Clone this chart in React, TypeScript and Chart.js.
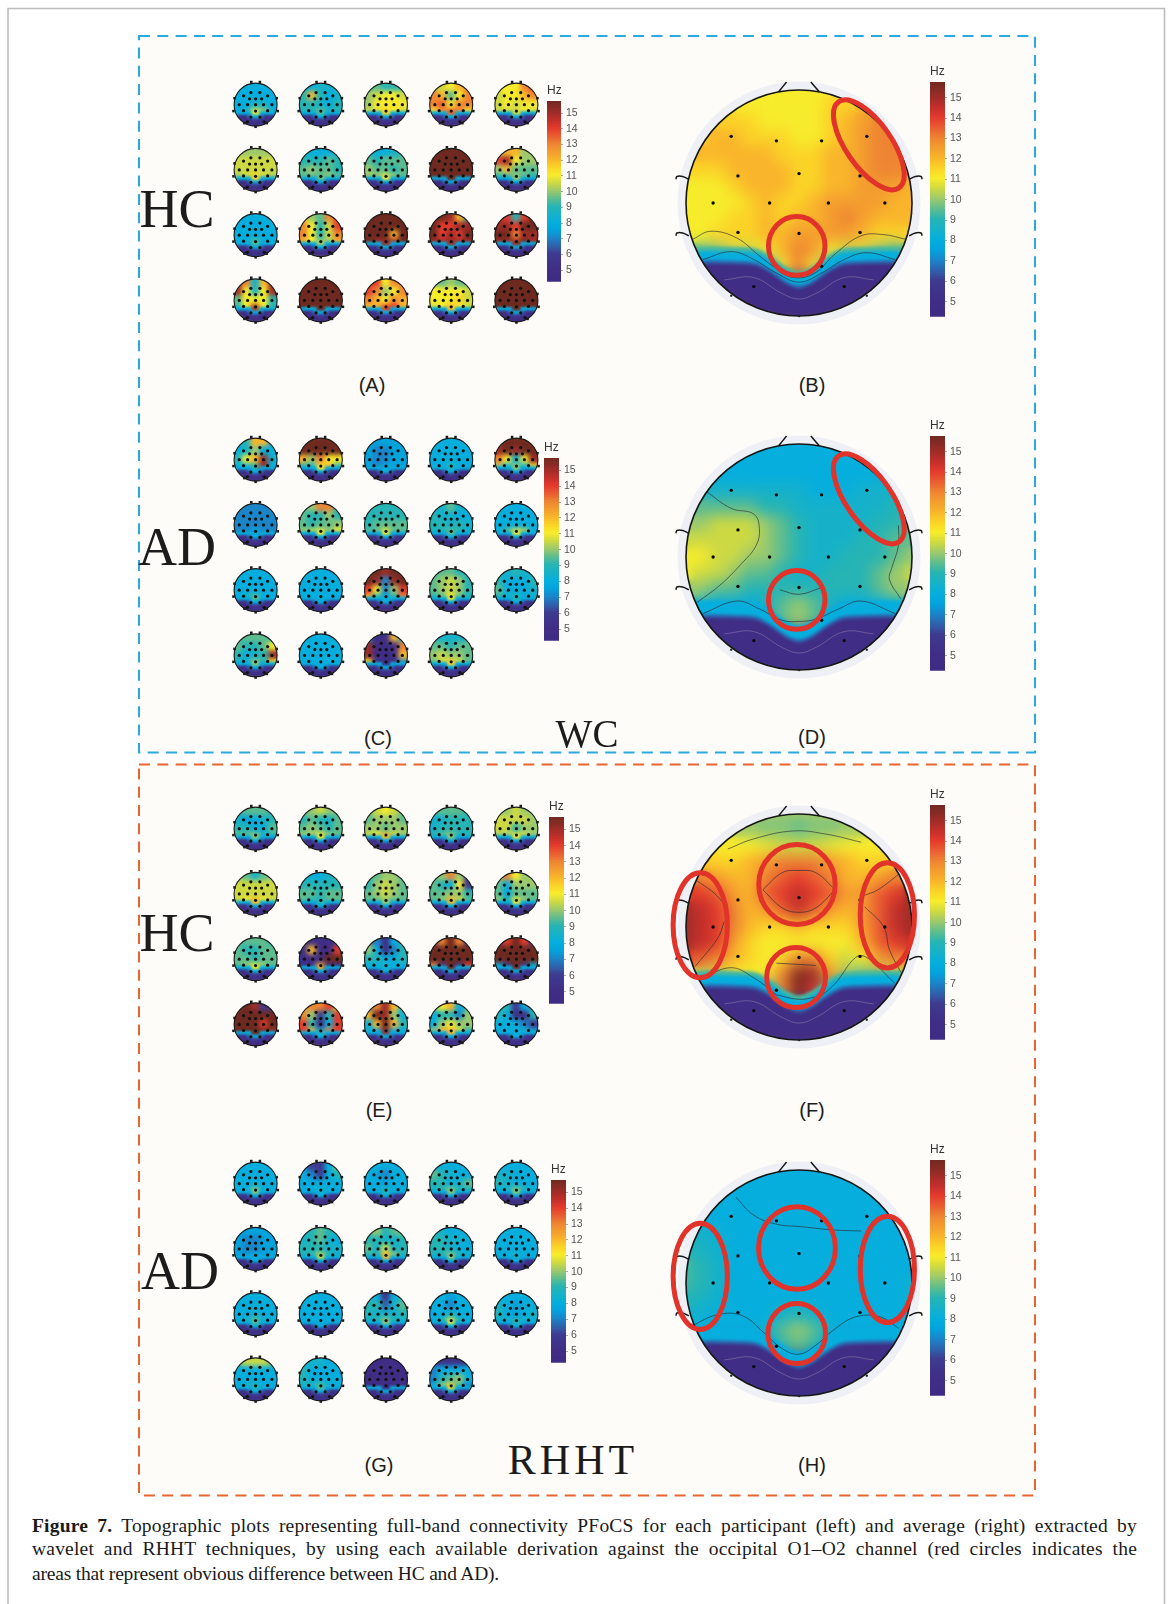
import React, { useEffect, useRef } from "react";
import { Chart, registerables } from "chart.js";
Chart.register(...registerables);

/* ---------- colour scale (Hz) ---------- */
const hzStops = [4.27, 5, 6, 6.5, 7, 7.5, 8, 9, 9.5, 10, 10.5, 11, 11.5, 12, 13, 13.5, 14, 14.5, 15, 15.77];
const hzColors = ["#3f2c84", "#402d85", "#3f3a91", "#2f62ac", "#1c85c8", "#03a3dc", "#06aedd", "#26b4b4", "#5ebc8e", "#9bc96e", "#cdd943", "#f7ec2c", "#fbd327", "#f9b52b", "#ee8433", "#ea5c32", "#e33a2c", "#c22f2b", "#9d2c28", "#6e2a20"];
const hzTicks = [5, 6, 7, 8, 9, 10, 11, 12, 13, 14, 15];
const hzMin = 4.27;
const hzMax = 15.77;

/* ---------- small heads: each list is 4 rows x 5 columns ---------- */
const smallGridU = [-0.8, -0.4, 0, 0.4, 0.8];
const smallGridV = [-0.8, -0.4, 0, 0.4];
const smallRimU = [-0.9, -0.7, -0.5, -0.3, -0.1, 0.1, 0.3, 0.5, 0.7, 0.9];
const smallRimV = [0.42, 0.58, 0.74, 0.9];
const smallRimValues = [
  [8, 8, 8, 8, null, null, 8, 8, 8, 8],
  [5, 5, 5, 6.5, 8, 8, 6.5, 5, 5, 5],
  [5, 5, 5, 5, 6, 6, 5, 5, 5, 5],
  [5, 5, 5, 5, 5, 5, 5, 5, 5, 5],
];
const H = 16;
const hot20 = [H, H, H, H, H, H, H, H, H, H, H, H, H, H, H, H, H, H, H, H];
const flat8 = [8, 8, 8, 8, 8, 8, 8, 8, 8, 8, 8, 8, 8, 8, 8, 8, 8, 8, 8, 8];
const flat5 = [5, 5, 5, 5, 5, 5, 5, 5, 5, 5, 5, 5, 5, 5, 5, 5, 5, 5, 5, 5];

const wcHcHeads = [
  [8,8,8,8,8, 8,8,8,8,8, 8,8,8.5,8.5,8, 8,8.5,11,10,8.5],
  [8,8,8.5,8.5,8, 9,12,9,8,8.5, 9,9,8.5,8,9, 9,9,9.5,9,9],
  [9,9.5,9,9,9, 10,10.5,11,11,10.5, 10,11,11,11,11, 10.5,10.5,11.5,11,10.5],
  [10,10.5,11,12,13, 13,12,9.5,11,13, 13,13.5,11,13,13, 11,12.5,13.5,13,11],
  [11,11,11,13,14, 10.5,11,11,12,13, 10.5,11,10.5,11,11, 10.5,10.5,10.5,11,10.5],
  [10,10,10,10,10, 10.5,10.5,10.5,10.5,10.5, 10.5,10.5,10.5,10.5,10.5, 10,10.5,11.5,10.5,10],
  [8.5,8,8,8,8.5, 9,9,9,9.5,9, 9.5,10,9.5,9.5,9, 9.5,9.5,9.5,10,9.5],
  [8.5,8,8,8.5,9, 9.5,9,9.5,9.5,9.5, 10,9.5,9.5,9,9.5, 10,10,11,10,9.5],
  hot20,
  [10,12,12,10,10, 14,15,11,10,10, 10,12,9.5,9.5,9.5, 9,9,10,9.5,9],
  [8,8,8,8,8, 8,8,8,8,8, 8,8,8,8,8, 8,8,9.5,8,8],
  [11,10,9.5,13,14, 13,11,9,10.5,14, 13,11,9,10.5,13, 12,11,10,10,12],
  [16,16,16,16,16, 16,16,16,16,16, 16,16,16,12,16, 16,15,15,15,16],
  [16,16,15,12,9, 16,14,14,15,15, 16,14,15,14,16, 15,15,15,15,15],
  [14,14,9,14,16, 15,15,14,16,16, 16,16,13,15,15, 15,15,15,16,15],
  [15,13,8.5,12,15, 15,11,8.5,11,15, 9.5,11,11,11,9, 9,11,15,11,9],
  hot20,
  [14,14,11,13,13, 14,13,10,11,13, 13,12,11,13,12, 12,12,14,14,12],
  [9.5,9.5,10,9.5,9.5, 11,11,11,11,10.5, 11,11,11,11.5,10.5, 10.5,11,12,11,10.5],
  hot20,
];
const wcAdHeads = [
  [8,9,12,12,8, 8,8.5,10,8,8, 9,11,12,15,8.5, 8,8,9,15,8],
  [16,16,16,16,16, 16,16,16,16,16, 12,10,13,11,11, 9,8.5,11,12,9],
  [7.5,7.5,7.5,7.5,7.5, 7.5,7,7,7.5,7.5, 7.5,7,7,7.5,7.5, 7.5,7,8,7.5,7.5],
  [8,8,8,8,8, 8,8,8,8,8, 8,8,8,8,8, 8,8,9,8,8],
  [16,16,16,16,16, 15,16,15,16,16, 13,11,8,11,15, 10,8,10,8,11],
  [7,7,7,7,7, 7,7,7,7,7, 7,7,7,7,7, 7,7,8,7,7],
  [9,10,13,13,9, 9.5,9,9,10,9, 9.5,9,9.5,9.5,10, 10,10.5,11,10,11],
  [9,9,9,9,9, 9,9,9,9,9, 9,9.5,9.5,9.5,9.5, 9.5,9.5,11,9.5,9.5],
  [8,8.5,9.5,8.5,8, 9,8.5,8.5,8,8, 9,9,8.5,9,8.5, 8.5,9,9.5,9,8.5],
  [8,8,8,8,8, 8,8,8,8,8, 8,8,8,8,8, 8,9.5,11,10.5,8],
  [8,8,8,8,8, 8,8,8,8,8, 8,8,8,8,8, 8,8.5,9.5,8,8],
  flat8,
  [16,16,15,16,16, 16,15,7,15,16, 14,11,7,10,14, 12,9,8,9,13],
  [8.5,9.5,9.5,9,8.5, 9.5,10,10.5,10,9, 9.5,10,10.5,10,9, 9,9.5,11,9.5,9],
  [8.5,8.5,9,8.5,8.5, 9,8,8,8,9, 9.5,8,8,8,8.5, 9,8.5,9,8,8.5],
  [9,9.5,9.5,9.5,9, 9.5,9,9,9.5,11, 9,8,8.5,9,15, 8.5,8.5,10,9,11],
  flat8,
  [8,5,5,12,8, 15,5,5,5,13, 15,5,5,5,12, 11,5,5,5,7],
  [8.5,8.5,8.5,8.5,8.5, 9.5,9.5,9,9.5,9.5, 10,10.5,10,10,9.5, 9.5,10.5,11.5,10.5,9.5],
];
const rhhtHcHeads = [
  [9,9.5,9.5,9.5,9, 8.5,7.5,8,8.5,9, 9,9,8,8,9.5, 9.5,9.5,10,9,9],
  [9.5,10,10.5,10,9.5, 9,9.5,9,8.5,9.5, 9.5,10,9.5,9,9.5, 10,10,11,10,9.5],
  [9.5,10.5,11,10.5,9.5, 9.5,10,10,10,9.5, 10,10,9.5,10,10, 10.5,11,12,10.5,10],
  [9,9.5,9.5,9.5,9, 8.5,8.5,9,9,9, 8.5,9,9,9,9, 9,9.5,10,9,9],
  [10,10,10.5,10,10, 10.5,10.5,10.5,10.5,10, 10.5,10.5,9,10,10, 10,10,11,10.5,10],
  [10,9.5,8.5,9.5,10, 10.5,10.5,10.5,10.5,10.5, 10.5,10.5,10.5,10.5,10.5, 10.5,11,12,11,10.5],
  [8.5,8,8,8.5,9, 9,9,9,9,9, 9.5,9.5,9,9.5,9.5, 9.5,9,9,9.5,9.5],
  [9,9.5,10,10,9.5, 9,10,10.5,10,9.5, 9.5,10,10.5,10,9.5, 9.5,9.5,10,9.5,9.5],
  [9.5,10,13,10,6, 9.5,9,8,11,5.5, 9.5,9.5,10,10,9, 9.5,10,12,10.5,9.5],
  [12,13,11,10,10, 9.5,8,10,10,10, 9.5,7.5,9.5,9.5,9.5, 10,9,11,10,9.5],
  [9,9.5,9.5,9.5,9, 9.5,9,9,9.5,9.5, 9.5,9.5,9,9.5,9.5, 9.5,10,11,10,9.5],
  [5,5,5,5,6, 5,12,5,5,14, 5,5,5,16,16, 5,5,12,5,5],
  [14,7,5,8,9, 10,8,5,7,9, 9,9,8,8,9, 8,8,8.5,8,8],
  [6,13,16,13,6, 16,16,16,16,16, 16,16,16,16,16, 13,6,16,6,14],
  [6,14,16,14,6, 16,16,16,16,16, 16,16,16,16,16, 8,6,16,6,8],
  [16,16,15,6,6, 16,16,16,16,16, 16,16,16,14,16, 16,16,16,16,15],
  [12,13,13,14,11, 13,10,6,9,14, 14,9,5,8,14, 14,12,8,13,14],
  [7,13,15,12,8, 12,16,15,10,8, 8,12,16,12,9, 8,8,15,8,8],
  [10,11,12,8,9, 8,9,9,7,10, 8,10,11,10,10, 10,12,12,10.5,9],
  [9,9,6,8,9, 9,8,5,5,9, 8,8,8,7,6, 8,8,8,8.5,8],
];
const rhhtAdHeads = [
  [8,8,8,8,8, 8,8,8,8,8, 8,8,8,8,8, 8,8,10,8,8],
  [7,6,5.5,8,10, 8,7,6,8,9, 8,8,8,8,8, 8,8,8.5,8,8],
  [8,8,8,8,8, 8,7.5,7,8,8, 8,8,7.5,8,8, 8,8,9,8,8],
  [8.5,8,8,8,8, 9.5,9,8.5,8,8, 9,9,8,8.5,9.5, 8.5,9,10,9,8.5],
  [8,8,8,8,8, 8.5,8.5,8,8,8, 9,8.5,8,8,8, 8,8.5,10,9,8],
  [7.5,7.5,7.5,7.5,7.5, 7.5,7,7,7.5,7.5, 7.5,7,7,7.5,7.5, 7.5,7.5,8,7.5,7.5],
  [8.5,9,9.5,9,8.5, 8.5,9,9.5,8.5,8, 9,9,9,8.5,8.5, 8.5,9,10.5,9,8.5],
  [9.5,10,9,9.5,10, 9,9,8.5,8.5,9, 9.5,8.5,10.5,8.5,9, 9,9,12,10,9],
  [8,8.5,8,8,8, 9,9,8.5,8.5,8, 9,9,8.5,8,8, 8.5,9,10,9,8.5],
  [8,8,8,8,8, 8,8,8,8,8, 8,8,8,8,8, 8,8,8.5,8,8],
  [8,8,8,8,8, 8,8,8,8,8, 8,8,8.5,8,8, 8,8.5,9.5,8.5,8],
  flat8,
  [9,8,5.5,8,9, 9,9,6.5,8.5,9.5, 9,8.5,8.5,8.5,9, 8.5,9,10,9,8.5],
  [8,8,7.5,8,8, 8,8,7,8,8, 8,8,8.5,8,8, 8,9,11,9,8],
  [8,8,8,8,8, 8.5,8,7.5,8,8, 9,8,7.5,8,8.5, 8,8.5,9,8.5,8],
  [10,10.5,10.5,10.5,10, 8,8,8,8,8, 8,8,8,8,8, 8,8.5,9,8,8],
  [8.5,8.5,8.5,8,8, 9,8,8,8,8, 9,8,8,8,8, 8.5,9,9.5,8.5,8],
  flat5,
  [5,5,5,5,5, 7,8,8,8,8, 7,9,9.5,10,8, 8,10,11.5,9,7],
];

/* ---------- large heads: 15 rows x 15 columns ---------- */
const bigGrid = [-1, -0.857, -0.714, -0.571, -0.429, -0.286, -0.143, 0, 0.143, 0.286, 0.429, 0.571, 0.714, 0.857, 1];
const N = [5, 5, 5, 5, 5, 5, 5, 5, 5, 5, 5, 5, 5, 5, 5];
const C8 = [8, 8, 8, 8, 8, 8, 8, 8, 8, 8, 8, 8, 8, 8, 8];
const averageB = [
  [11,11,11,11,11,11,11,11,11,11,11.5,12,12,12,12],
  [11,11,11,11,11,11,11,11,11,11.5,11.5,12,12.5,12.5,12.5],
  [11,11,11.5,11.5,11.5,11,11,11,11,11.5,12,12.5,13,13,13],
  [11.5,11.5,12,12,11.5,11.5,11.5,11,11,11.5,12,12.5,13,13,13],
  [11.5,12,12,12,12,12,11.5,11.5,11.5,12,12,12.5,13,13,13],
  [11.5,11.5,11.5,12,12,12,12,11.5,11.5,12,12,12.5,13,13,12.5],
  [11,11,11,11.5,12,12,12,11.5,11.5,12,12,12.5,12.5,12.5,12],
  [11,11,11,11,11.5,12,11.5,11.5,12,12.5,12.5,12.5,12.5,12,12],
  [11,11,11,11.5,11.5,12,11.5,12,12,12.5,13,12.5,12,12,12],
  [11,11,11.5,11.5,11.5,12,12,12.5,12.5,12.5,12.5,12,11.5,11.5,11.5],
  [9.5,9.5,10,10.5,10.5,11,12,13,12.5,11,10.5,10.5,10,9.5,9.5],
  [5,5,5,5,5,8,11,13,11,8,5,5,5,5,5],
  N, N, N,
];
const averageD = [
  C8, C8, C8,
  [8.5,8.5,8.5,8.5,8.5,8.5,8.5,8.5,8,8,8,8.5,8.5,8.5,8.5],
  [9.5,9.5,9.5,9.5,9.5,9,9,8.5,8.5,8.5,8.5,8.5,8.5,9,9],
  [10,10,10.5,10.5,10.5,10,9.5,9,8.5,8.5,8.5,8.5,9,9,9.5],
  [10.5,10.5,10.5,10.5,10.5,10,9.5,9,8.5,8.5,8.5,9,9,9.5,9.5],
  [11,11,10.5,10.5,10,10,9.5,9,8.5,8.5,9,9,9,9.5,10],
  [11,10.5,10.5,10,9.5,9.5,9,8.5,8.5,9,9,9,9.5,10,10.5],
  [10,10,9.5,9.5,9,9,9,9,9,9,9,9,9.5,10,10],
  [8.5,8.5,8,8,8,8.5,9.5,10,9.5,8.5,8,8,8,8.5,8.5],
  [5,5,5,5,5,7.5,9.5,10,9.5,7.5,5,5,5,5,5],
  N, N, N,
];
const averageF = [
  [10,10,10,10,10,10,10,10,10,10,10,10,10,10,10],
  [10,10,10,10,10,9.8,9.8,9.5,9.8,9.8,10,10,10,10,10],
  [11,11,11,11,11,10.8,10.5,10.5,10.5,10.8,11,11,11,11,11],
  [11.5,11.5,11.5,11.5,12,12.5,13,13,13,12.5,12,11.5,11.5,11.5,11.5],
  [13,13,12.5,12,12,13,13.5,14,13.5,13,12,12,12.5,13,13.5],
  [14,14,13.5,12.5,12,13.5,14,14.5,14,13.5,12.5,12.5,13.5,14,15],
  [15,14.5,14,13,12,12.5,13.5,14.5,13.5,12.5,12,12.5,13.5,14.5,15],
  [15,14.5,14,13,12,11.5,11.5,12,11.5,11.5,11.5,12.5,13.5,14.5,15],
  [15,14.5,14,12.5,11.5,11,11,11,11,11,11,12,13.5,14,14.5],
  [14,13.5,13,12,11.5,11,11.5,13,13,11.5,10.5,11,12.5,13,13],
  [10.5,10.5,10.5,11,11,11,13,15.5,15,12.5,10,9.5,10,10.5,11.5],
  [5,5,5,5,5,9,13,15.5,14,9,5,5,5,5,5],
  N, N, N,
];
const averageH = [
  C8, C8, C8, C8,
  [8.5,8.5,8.2,8,8,8,8,8,8,8,8,8,8,8,8],
  [9,8.7,8.3,8,8,8,8,8,8,8,8,8,8,8,8],
  [9.3,9,8.5,8,8,8,8,8,8,8,8,8,8,8,8],
  [9.3,9,8.5,8,8,8,8,8,8,8,8,8,8,8,8.3],
  [9,8.7,8.3,8,8,8,8,8,8,8,8,8,8,8,8.3],
  [8.5,8.3,8,8,8,8,8.5,9,8.5,8,8,8,8,8,8],
  [8,8,8,8,8,8.2,9.5,10,9.5,8.2,8,8,8,8,8],
  [5,5,5,5,5,7.5,9,9.5,9,7.5,5,5,5,5,5],
  N, N, N,
];

/* occipital edge shared by the large maps */
const rimX = [-1.15, -0.8, -0.55, -0.38, -0.25, -0.12, 0, 0.12, 0.25, 0.38, 0.55, 0.8, 1.15];
const rimY = [0.5, 0.47, 0.475, 0.49, 0.56, 0.65, 0.69, 0.65, 0.56, 0.49, 0.475, 0.47, 0.5];
const rimOffsets = [-0.06, 0, 0.055, 0.095, 0.17];
const rimValues = [9.3, 8, 6.5, 5, 5];
const rimWidths = [6, 10, 4, 6, 14];

/* electrodes */
const electrodeX = [-0.6, -0.2, 0.2, 0.6, -0.54, 0, 0.54, -0.76, -0.26, 0.26, 0.76, -0.54, 0, 0.54, -0.4, 0.4];
const electrodeY = [-0.59, -0.55, -0.55, -0.59, -0.24, -0.26, -0.24, 0, 0, 0, 0, 0.26, 0.27, 0.26, 0.74, 0.74];
const smallElectrodeX = [-0.22, 0.2, -0.56, 0.56, -0.28, 0, 0.28, -0.76, -0.37, 0, 0.37, 0.76, -0.56, 0, 0.56, -0.22, 0.2, -0.38, 0.4];
const smallElectrodeY = [-0.56, -0.56, -0.41, -0.41, -0.27, -0.27, -0.27, 0, 0, 0, 0, 0, 0.28, 0.3, 0.28, 0.58, 0.58, 0.8, 0.8];
const markX = [-0.98, -1.03, 0.98, 1.03, -0.2, 0.2, 0, -0.52, 0.52];
const markY = [-0.3, 0.3, -0.3, 0.3, -1.05, -1.05, 1.03, 0.86, 0.86];
const bigEdgeX = [0, -0.6, 0.6];
const bigEdgeY = [1.0, 0.82, 0.82];

/* head furniture */
const noseLeftX = [-0.18, -0.11];
const noseRightX = [0.18, 0.105];
const noseY = [-0.985, -1.07];
const earUpperX = [-0.975, -1.03, -1.08, -1.09];
const earUpperY = [-0.21, -0.235, -0.235, -0.21];
const earLowerY = [0.29, 0.265, 0.265, 0.29];

/* contour lines of the large maps */
const contoursB = [
  [[-0.94,-0.78,-0.55,-0.36,-0.2,-0.05,0.14,0.32,0.55,0.75,0.94],[0.32,0.25,0.31,0.46,0.58,0.66,0.62,0.45,0.29,0.28,0.32]],
  [[-0.85,-0.6,-0.4,-0.2,0,0.2,0.4,0.6,0.85],[0.5,0.43,0.5,0.62,0.7,0.62,0.5,0.44,0.5]],
];
const contoursD = [
  [[-0.82,-0.6,-0.4,-0.35,-0.38,-0.5,-0.7,-0.9],[-0.58,-0.43,-0.38,-0.25,-0.1,0.05,0.25,0.4]],
  [[-0.17,0,0.2],[0.29,0.33,0.27]],
  [[-0.85,-0.55,-0.35,-0.15,0,0.15,0.35,0.55,0.85],[0.5,0.39,0.46,0.56,0.57,0.55,0.46,0.39,0.5]],
  [[0.88,0.88,0.82,0.8,0.9],[-0.28,-0.1,0.1,0.2,0.37]],
];
const contoursF = [
  [[-0.63,-0.4,-0.05,0.25,0.55],[-0.69,-0.78,-0.85,-0.82,-0.75]],
  [[-0.32,-0.15,0,0.15,0.32],[-0.33,-0.48,-0.5,-0.48,-0.33]],
  [[-0.32,-0.15,0,0.15,0.32],[-0.33,-0.17,-0.13,-0.17,-0.33]],
  [[-0.92,-0.75,-0.66],[-0.42,-0.3,-0.2]],
  [[-0.66,-0.72,-0.92],[-0.05,0.1,0.35]],
  [[0.9,0.7,0.58],[-0.48,-0.33,-0.28]],
  [[0.58,0.75,0.8,0.9],[-0.18,0,0.2,0.4]],
  [[-0.2,0.15],[0.32,0.34]],
  [[-0.2,0,0.15],[0.6,0.64,0.62]],
  [[-0.85,-0.6,-0.4,-0.2],[0.45,0.36,0.45,0.6]],
  [[0.12,0.32,0.5,0.6,0.85],[0.67,0.5,0.27,0.27,0.5]],
];
const contoursH = [
  [[-0.56,-0.4,-0.2,0,0.3,0.55],[-0.76,-0.6,-0.52,-0.5,-0.47,-0.46]],
  [[-0.95,-0.72,-0.5,-0.3,-0.15,0,0.15,0.3,0.5,0.72,0.88],[0.38,0.28,0.29,0.45,0.58,0.63,0.55,0.42,0.3,0.3,0.4]],
];
const navyContourX = [-0.66, -0.4, -0.15, 0, 0.15, 0.4, 0.66];
const navyContourY = [0.68, 0.66, 0.8, 0.85, 0.8, 0.66, 0.68];

/* red rings: centre x, centre y, radius x, radius y, rotation in degrees */
const ringsBD = [[0.618, -0.515, 0.465, 0.2, 55], [-0.02, 0.38, 0.25, 0.26, 0]];
const ringsF = [[-0.018, -0.376, 0.338, 0.353, 0], [-0.026, 0.447, 0.26, 0.265, 0], [-0.874, -0.015, 0.24, 0.465, 0], [0.782, -0.103, 0.24, 0.465, 0]];
const ringsH = [[-0.018, -0.309, 0.34, 0.365, 0], [-0.02, 0.447, 0.255, 0.265, 0], [-0.874, -0.059, 0.24, 0.47, 0], [0.782, -0.12, 0.24, 0.47, 0]];

const sansFont = '"Liberation Sans", Arial, sans-serif';
const serifFont = '"Liberation Serif", "Times New Roman", serif';

function hzColor(v: number): string {
  let i = 0;
  while (i < hzStops.length - 2 && v > hzStops[i + 1]) i++;
  const t = Math.max(0, Math.min(1, (v - hzStops[i]) / (hzStops[i + 1] - hzStops[i])));
  const rgb = (h: string) => [1, 3, 5].map((k) => parseInt(h.slice(k, k + 2), 16));
  const a = rgb(hzColors[i]);
  const b = rgb(hzColors[i + 1]);
  return `rgb(${a.map((c, k) => Math.round(c + (b[k] - c) * t)).join(",")})`;
}

const mean = (a: number[]) => a.reduce((s, v) => s + v, 0) / a.length;
const pairs = (xs: number[], ys: number[]) => xs.map((x, i) => ({ x, y: ys[i] }));

/* clips a dataset to its head, softens what was drawn there; draws the red rings */
const scalpPlugin = {
  id: "scalp",
  beforeDatasetDraw(chart: any, args: any) {
    const s = chart.data.datasets[args.index].scalp;
    if (!s) return;
    const ctx = chart.ctx;
    const px = chart.scales.x.getPixelForValue(s.cx);
    const py = chart.scales.y.getPixelForValue(s.cy);
    ctx.save();
    ctx.beginPath();
    ctx.arc(px, py, s.r, 0, Math.PI * 2);
    ctx.clip();
  },
  afterDatasetDraw(chart: any, args: any) {
    const s = chart.data.datasets[args.index].scalp;
    if (!s) return;
    const ctx = chart.ctx;
    if (s.blur) {
      const px = chart.scales.x.getPixelForValue(s.cx);
      const py = chart.scales.y.getPixelForValue(s.cy);
      const pad = s.r + s.blur * 3;
      const sx = Math.max(0, Math.floor(px - pad));
      const sy = Math.max(0, Math.floor(py - pad));
      const sw = Math.min(chart.width - sx, Math.ceil(pad * 2));
      const sh = Math.min(chart.height - sy, Math.ceil(pad * 2));
      ctx.filter = `blur(${s.blur}px)`;
      ctx.drawImage(chart.canvas, sx, sy, sw, sh, sx, sy, sw, sh);
    }
    ctx.restore();
  },
  afterDatasetsDraw(chart: any, _a: any, opts: any) {
    const rings = opts && opts.rings;
    if (!rings) return;
    const ctx = chart.ctx;
    const xs = chart.scales.x;
    const ys = chart.scales.y;
    const unit = xs.getPixelForValue(1) - xs.getPixelForValue(0);
    ctx.save();
    ctx.strokeStyle = "#e2332a";
    ctx.lineWidth = 5;
    for (const [cx, cy, rx, ry, rot] of rings) {
      ctx.beginPath();
      ctx.ellipse(xs.getPixelForValue(cx), ys.getPixelForValue(cy), rx * unit, ry * unit, (rot * Math.PI) / 180, 0, Math.PI * 2);
      ctx.stroke();
    }
    ctx.restore();
  },
};

function ordered(list: any[]) {
  return list.map((d, i) => ({ clip: false, order: list.length - i, pointBorderWidth: 0, ...d }));
}

function baseOptions(xMin: number, xMax: number, yMin: number, yMax: number, pluginOpts: any = {}) {
  return {
    animation: false,
    responsive: false,
    devicePixelRatio: 1,
    events: [],
    layout: { padding: 0, autoPadding: false },
    plugins: { legend: { display: false }, title: { display: false }, tooltip: { enabled: false }, scalp: pluginOpts },
    scales: {
      x: { type: "linear", display: false, min: xMin, max: xMax },
      y: { type: "linear", display: false, min: yMin, max: yMax, reverse: true },
    },
  };
}

function useChart(make: () => any) {
  const ref = useRef<HTMLCanvasElement | null>(null);
  useEffect(() => {
    const chart = new Chart(ref.current as any, make());
    return () => chart.destroy();
  }, []);
  return ref;
}

/* ---------- grid of participant heads ---------- */
const SMALL_PITCH = 65.2;
const SMALL_R = 21.5;

function smallConfig(heads: number[][]) {
  const unit = SMALL_R / SMALL_PITCH;
  const place = (i: number, u: number, v: number) => ({
    x: (i % 5) + 0.5 + u * unit,
    y: Math.floor(i / 5) + 0.5 + v * unit,
  });
  const cellR = (0.46 * SMALL_R) / 1.414;
  const rimR = (0.22 * SMALL_R) / 1.414;
  const list: any[] = [];
  list.push({
    data: heads.map((_h, i) => place(i, 0, 0)),
    pointRadius: SMALL_R,
    pointBackgroundColor: heads.map((h) => hzColor(mean(h))),
  });
  heads.forEach((h, i) => {
    const data: any[] = [];
    const colors: string[] = [];
    smallGridV.forEach((v, r) =>
      smallGridU.forEach((u, c) => {
        data.push(place(i, u, v));
        colors.push(hzColor(h[r * 5 + c]));
      })
    );
    const c = place(i, 0, 0);
    list.push({
      data,
      pointStyle: "rect",
      pointRadius: cellR,
      pointBackgroundColor: colors,
      scalp: { cx: c.x, cy: c.y, r: SMALL_R, blur: 2 },
    });
    const rimData: any[] = [];
    const rimColors: string[] = [];
    smallRimV.forEach((v, r) =>
      smallRimU.forEach((u, k) => {
        const val = smallRimValues[r][k];
        if (val === null) return;
        rimData.push(place(i, u, v));
        rimColors.push(hzColor(val));
      })
    );
    list.push({
      data: rimData,
      pointStyle: "rect",
      pointRadius: rimR,
      pointBackgroundColor: rimColors,
      scalp: { cx: c.x, cy: c.y, r: SMALL_R, blur: 0.8 },
    });
  });
  list.push({
    data: heads.map((_h, i) => place(i, 0, 0)),
    pointRadius: SMALL_R,
    pointBackgroundColor: "rgba(0,0,0,0)",
    pointBorderColor: "#1a1a1a",
    pointBorderWidth: 1.1,
  });
  const marks: any[] = [];
  const dots: any[] = [];
  heads.forEach((_h, i) => {
    markX.forEach((u, k) => marks.push(place(i, u, markY[k])));
    smallElectrodeX.forEach((u, k) => dots.push(place(i, u, smallElectrodeY[k])));
  });
  list.push({ data: marks, pointStyle: "rect", pointRadius: 1.8, pointBackgroundColor: "#1a1a1a" });
  list.push({ data: dots, pointRadius: 1.6, pointBackgroundColor: "#111" });
  return {
    type: "scatter",
    data: { datasets: ordered(list) },
    options: baseOptions(0, 5, 0, 4),
    plugins: [scalpPlugin],
  };
}

function SmallGrid({ heads, left, top }: { heads: number[][]; left: number; top: number }) {
  const ref = useChart(() => smallConfig(heads));
  return <canvas ref={ref} width={326} height={261} style={{ position: "absolute", left, top }} />;
}

/* ---------- averaged head ---------- */
const BIG_R = 113;
const BIG_HALF = 141;
const HALO = 8.5;

function bigConfig(grid: number[][], shoulder: number, lowerDotX: number, contours: number[][][], rings: number[][]) {
  const list: any[] = [];
  const centre = [{ x: 0, y: 0 }];
  list.push({ data: centre, pointRadius: BIG_R, pointBackgroundColor: hzColor(mean(grid.slice(0, 9).flat())) });
  const cells: any[] = [];
  const colors: string[] = [];
  grid.forEach((row, r) =>
    row.forEach((v, c) => {
      cells.push({ x: bigGrid[c], y: bigGrid[r] });
      colors.push(hzColor(v));
    })
  );
  list.push({
    data: cells,
    pointStyle: "rect",
    pointRadius: 18 / 1.414,
    pointBackgroundColor: colors,
    scalp: { cx: 0, cy: 0, r: BIG_R, blur: 7 },
  });
  rimOffsets.forEach((off, k) => {
    const value = k === 0 ? shoulder : rimValues[k];
    list.push({
      data: rimX.map((x, i) => ({ x, y: rimY[i] + off })),
      showLine: true,
      tension: 0.35,
      pointRadius: 0,
      borderColor: hzColor(value),
      borderWidth: rimWidths[k],
      scalp: { cx: 0, cy: 0, r: BIG_R, blur: k === rimOffsets.length - 1 ? 1.6 : 0 },
    });
  });
  list.push({
    data: pairs(navyContourX, navyContourY),
    showLine: true,
    tension: 0.4,
    pointRadius: 0,
    borderColor: "rgba(140,125,170,0.7)",
    borderWidth: 0.8,
  });
  contours.forEach(([xs, ys]) =>
    list.push({
      data: pairs(xs, ys),
      showLine: true,
      tension: 0.4,
      pointRadius: 0,
      borderColor: "rgba(40,40,50,0.7)",
      borderWidth: 0.9,
    })
  );
  list.push({
    data: centre,
    pointRadius: BIG_R + HALO / 2,
    pointBackgroundColor: "rgba(0,0,0,0)",
    pointBorderColor: "#eef0f5",
    pointBorderWidth: HALO,
  });
  list.push({
    data: centre,
    pointRadius: BIG_R,
    pointBackgroundColor: "rgba(0,0,0,0)",
    pointBorderColor: "#161616",
    pointBorderWidth: 1.6,
  });
  const stroke = (xs: number[], ys: number[]) => ({
    data: pairs(xs, ys),
    showLine: true,
    tension: 0.4,
    pointRadius: 0,
    borderColor: "#161616",
    borderWidth: 1.5,
  });
  list.push(stroke(noseLeftX, noseY));
  list.push(stroke(noseRightX, noseY));
  [earUpperY, earLowerY].forEach((ys) => {
    list.push(stroke(earUpperX, ys));
    list.push(stroke(earUpperX.map((x) => -x), ys));
  });
  list.push({
    data: [...pairs(electrodeX, electrodeY), { x: lowerDotX, y: 0.56 }],
    pointRadius: 1.7,
    pointBackgroundColor: "#0a0a0a",
  });
  list.push({ data: pairs(bigEdgeX, bigEdgeY), pointRadius: 1.2, pointBackgroundColor: "#222" });
  const dom = BIG_HALF / BIG_R;
  return {
    type: "scatter",
    data: { datasets: ordered(list) },
    options: baseOptions(-dom, dom, -dom, dom, { rings }),
    plugins: [scalpPlugin],
  };
}

function BigHead({ cx, cy, grid, shoulder, lowerDotX, contours, rings }: any) {
  const ref = useChart(() => bigConfig(grid, shoulder, lowerDotX, contours, rings));
  return (
    <canvas
      ref={ref}
      width={BIG_HALF * 2}
      height={BIG_HALF * 2}
      style={{ position: "absolute", left: cx - BIG_HALF, top: cy - BIG_HALF }}
    />
  );
}

/* ---------- colour bar ---------- */
const TITLE_H = 18;
function barConfig() {
  const datasets: any[] = [];
  for (let lo = hzMin; lo < hzMax; lo += 0.1) {
    datasets.push({
      data: [[lo, Math.min(hzMax, lo + 0.13)]],
      backgroundColor: hzColor(lo + 0.05),
      borderWidth: 0,
      barPercentage: 1,
      categoryPercentage: 1,
      grouped: false,
    });
  }
  return {
    type: "bar",
    data: { labels: ["Hz"], datasets },
    options: {
      animation: false,
      responsive: false,
      devicePixelRatio: 1,
      events: [],
      layout: { padding: 0 },
      plugins: {
        legend: { display: false },
        tooltip: { enabled: false },
        title: {
          display: true,
          text: "Hz",
          align: "start",
          color: "#333",
          padding: { top: 0, bottom: 3 },
          font: { family: sansFont, size: 12, weight: "normal", lineHeight: 1.25 },
        },
      },
      scales: {
        x: { display: false },
        y: {
          position: "right",
          min: hzMin,
          max: hzMax,
          afterBuildTicks: (axis: any) => {
            axis.ticks = hzTicks.map((value) => ({ value }));
          },
          afterFit: (axis: any) => {
            axis.width = 24;
          },
          grid: { drawOnChartArea: false, tickLength: 2, color: "#aaa" },
          border: { display: false },
          ticks: {
            autoSkip: false,
            padding: 3,
            color: "#555",
            font: { family: sansFont, size: 10.5 },
            callback: (v: any) => String(v),
          },
        },
      },
    },
  };
}

function ColorBar({ left, top, bottom, width }: { left: number; top: number; bottom: number; width: number }) {
  const ref = useChart(barConfig);
  return (
    <canvas
      ref={ref}
      width={width + 24}
      height={bottom - top + TITLE_H}
      style={{ position: "absolute", left, top: top - TITLE_H }}
    />
  );
}

/* ---------- page ---------- */
function Label({ x, y, size, font, children, spacing = 0 }: any) {
  return (
    <div
      style={{
        position: "absolute",
        left: x,
        top: y,
        transform: "translate(-50%,-50%)",
        fontFamily: font,
        fontSize: size,
        letterSpacing: spacing,
        color: "#1c1c1c",
        lineHeight: 1,
        whiteSpace: "nowrap",
      }}
    >
      {children}
    </div>
  );
}

const panelLetters = [
  ["(A)", 372, 385], ["(B)", 812, 385], ["(C)", 378, 738], ["(D)", 812, 737],
  ["(E)", 379, 1110], ["(F)", 812, 1110], ["(G)", 379, 1465], ["(H)", 812, 1465],
];
const groupLabels = [["HC", 177, 209], ["AD", 177, 547], ["HC", 177, 933], ["AD", 180, 1271]];
const captionLines = [
  "Topographic plots representing full-band connectivity PFoCS for each participant (left) and average (right) extracted by",
  "wavelet and RHHT techniques, by using each available derivation against the occipital O1–O2 channel (red circles indicates the",
  "areas that represent obvious difference between HC and AD).",
];

export default function App() {
  const captionBase: any = {
    position: "absolute",
    left: 32,
    width: 1105,
    fontFamily: serifFont,
    fontSize: 19.5,
    lineHeight: "24px",
    color: "#1a1a1a",
  };
  return (
    <div style={{ position: "absolute", left: 0, top: 0, width: 1171, height: 1604, overflow: "hidden", background: "#fff" }}>
      <svg width={1171} height={1604} style={{ position: "absolute", left: 0, top: 0 }}>
        <path d="M8 1604 V8.5 H1164.5 V1604" fill="none" stroke="#bdbdbd" strokeWidth={1.6} />
        <rect x={139} y={36} width={896} height={716.5} fill="#fdfcf9" stroke="#2aa9df" strokeWidth={2} strokeDasharray="11 7.3" />
        <rect x={139} y={764.5} width={896} height={731} fill="#fdfcf9" stroke="#e8652f" strokeWidth={2} strokeDasharray="11 7.3" />
      </svg>

      <SmallGrid heads={wcHcHeads} left={223} top={72} />
      <SmallGrid heads={wcAdHeads} left={223} top={427} />
      <SmallGrid heads={rhhtHcHeads} left={223} top={796} />
      <SmallGrid heads={rhhtAdHeads} left={223} top={1151} />

      <BigHead cx={799} cy={203} grid={averageB} shoulder={9.3} lowerDotX={0.2} contours={contoursB} rings={ringsBD} />
      <BigHead cx={799} cy={557} grid={averageD} shoulder={8} lowerDotX={0.2} contours={contoursD} rings={ringsBD} />
      <BigHead cx={799} cy={927} grid={averageF} shoulder={9.3} lowerDotX={-0.2} contours={contoursF} rings={ringsF} />
      <BigHead cx={799} cy={1283} grid={averageH} shoulder={8} lowerDotX={-0.2} contours={contoursH} rings={ringsH} />

      <ColorBar left={547} top={101} bottom={291} width={14} />
      <ColorBar left={544} top={458} bottom={650} width={15} />
      <ColorBar left={549} top={817} bottom={1013} width={15} />
      <ColorBar left={551} top={1180} bottom={1372} width={15} />
      <ColorBar left={930} top={82} bottom={326} width={15} />
      <ColorBar left={930} top={436} bottom={680} width={15} />
      <ColorBar left={930} top={805} bottom={1049} width={15} />
      <ColorBar left={930} top={1160} bottom={1405} width={15} />

      {panelLetters.map(([t, x, y]) => (
        <Label key={String(t)} x={x} y={y} size={20} font={sansFont}>{t}</Label>
      ))}
      {groupLabels.map(([t, x, y], i) => (
        <Label key={i} x={x} y={y} size={54} font={serifFont}>{t}</Label>
      ))}
      <Label x={587} y={733} size={39} font={serifFont}>WC</Label>
      <Label x={573} y={1460} size={42} font={serifFont} spacing={4}>RHHT</Label>

      <div style={{ ...captionBase, top: 1514, textAlignLast: "justify", textAlign: "justify", letterSpacing: 0.2 }}>
        <b>Figure 7.</b> {captionLines[0]}
      </div>
      <div style={{ ...captionBase, top: 1537, textAlignLast: "justify", textAlign: "justify", letterSpacing: 0.2 }}>{captionLines[1]}</div>
      <div style={{ ...captionBase, top: 1562, letterSpacing: -0.2 }}>{captionLines[2]}</div>
    </div>
  );
}
